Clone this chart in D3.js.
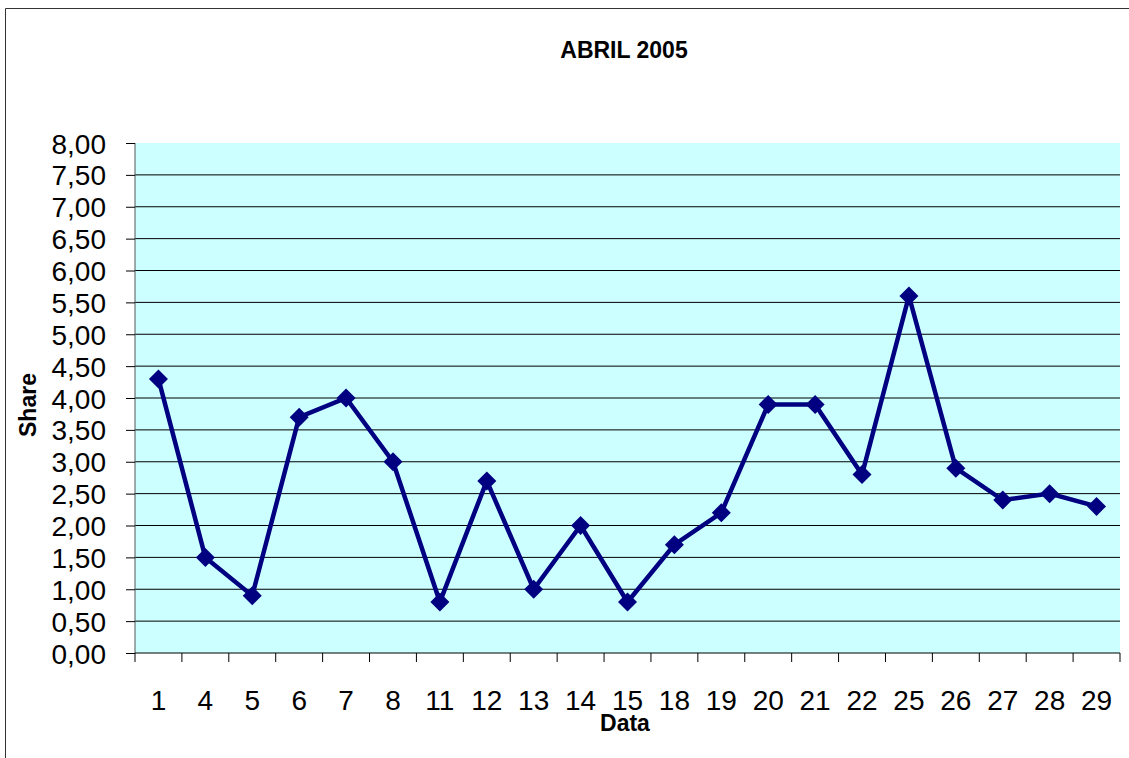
<!DOCTYPE html>
<html>
<head>
<meta charset="utf-8">
<script src="https://cdn.jsdelivr.net/npm/d3@7"></script>
<style>
  body { margin: 0; background: #fff; overflow: hidden; }
  svg { display: block; }
  text { font-family: "Liberation Sans", Arial, sans-serif; }
</style>
</head>
<body>
<div id="chart-area"></div>
<script>
// Data
// ****
const days = ["1", "4", "5", "6", "7", "8", "11", "12", "13", "14", "15", "18", "19", "20", "21", "22", "25", "26", "27", "28", "29"]
const share = [4.3, 1.5, 0.9, 3.7, 4.0, 3.0, 0.8, 2.7, 1.0, 2.0, 0.8, 1.7, 2.2, 3.9, 3.9, 2.8, 5.6, 2.9, 2.4, 2.5, 2.3]
const yTicks = [0, 0.5, 1, 1.5, 2, 2.5, 3, 3.5, 4, 4.5, 5, 5.5, 6, 6.5, 7, 7.5, 8]

// Config
// ******
const W = 1129, H = 758
const plot = {left: 135, right: 1120, top: 143, bottom: 653}

const svg = d3.select("#chart-area")
  .append("svg")
    .attr("width", W)
    .attr("height", H)

// Outer frame (runs off the right and bottom edges)
svg.append("path")
  .attr("d", "M5.5," + (H + 5) + "V8.5H" + (W + 5))
  .attr("fill", "none")
  .attr("stroke", "#333")

// Scales
const x = d3.scaleBand().domain(days).range([plot.left, plot.right]).padding(0)
const y = d3.scaleLinear().domain([0, 8]).range([plot.bottom, plot.top])

// Plot area
svg.append("rect")
  .attr("x", plot.left).attr("y", plot.top)
  .attr("width", plot.right - plot.left).attr("height", plot.bottom - plot.top)
  .attr("fill", "#ccffff")

// Gridlines
svg.append("g").selectAll("line")
  .data(yTicks.filter(d => d > 0 && d < 8))
  .enter().append("line")
    .attr("x1", plot.left).attr("x2", plot.right)
    .attr("y1", d => y(d)).attr("y2", d => y(d))
    .attr("stroke", "#000")
    .attr("stroke-width", 1)

// Left axis
const leftAxis = d3.axisLeft(y).tickValues(yTicks).tickSize(9).tickPadding(20)
  .tickFormat(d => d3.format(".2f")(d).replace(".", ","))
const gl = svg.append("g")
  .attr("transform", "translate(" + plot.left + ",0)")
  .call(leftAxis)
gl.select(".domain").attr("stroke", "#555").attr("d", "M0," + plot.top + "V" + plot.bottom)
gl.selectAll(".tick line").attr("stroke", "#000")
gl.selectAll("text")
  .attr("font-size", "28px")
  .attr("font-family", "Liberation Sans, Arial, sans-serif")
  .attr("fill", "#000")
  .attr("dy", "0.36em")

// Bottom axis: ticks between categories
const edges = days.map(d => x(d)).concat([plot.right])
svg.append("line")
  .attr("x1", plot.left).attr("x2", plot.right)
  .attr("y1", plot.bottom).attr("y2", plot.bottom)
  .attr("stroke", "#000")
svg.append("g").selectAll("line")
  .data(edges)
  .enter().append("line")
    .attr("x1", d => d).attr("x2", d => d)
    .attr("y1", plot.bottom).attr("y2", plot.bottom + 9)
    .attr("stroke", "#000")
svg.append("g").selectAll("text")
  .data(days)
  .enter().append("text")
    .attr("x", d => x(d) + x.bandwidth() / 2)
    .attr("y", 710)
    .attr("text-anchor", "middle")
    .attr("font-size", "28px")
    .text(d => d)

// Line + markers
const pts = days.map((d, i) => [x(d) + x.bandwidth() / 2, y(share[i])])
svg.append("path")
  .attr("d", d3.line()(pts))
  .attr("fill", "none")
  .attr("stroke", "#000080")
  .attr("stroke-width", 4.5)
  .attr("stroke-linejoin", "miter")

svg.append("g").selectAll("path")
  .data(pts)
  .enter().append("path")
    .attr("d", d => "M" + d[0] + "," + (d[1] - 9.5) + "L" + (d[0] + 9.5) + "," + d[1] +
      "L" + d[0] + "," + (d[1] + 9.5) + "L" + (d[0] - 9.5) + "," + d[1] + "Z")
    .attr("fill", "#000080")

// Labels
svg.append("text")
  .attr("x", 624).attr("y", 58)
  .attr("text-anchor", "middle")
  .attr("font-size", "23px")
  .attr("font-weight", "bold")
  .text("ABRIL 2005")

svg.append("text")
  .attr("x", 625).attr("y", 731)
  .attr("text-anchor", "middle")
  .attr("font-size", "23px")
  .attr("font-weight", "bold")
  .text("Data")

svg.append("text")
  .attr("transform", "translate(36,405) rotate(-90)")
  .attr("text-anchor", "middle")
  .attr("font-size", "23px")
  .attr("font-weight", "bold")
  .text("Share")
</script>
</body>
</html>
